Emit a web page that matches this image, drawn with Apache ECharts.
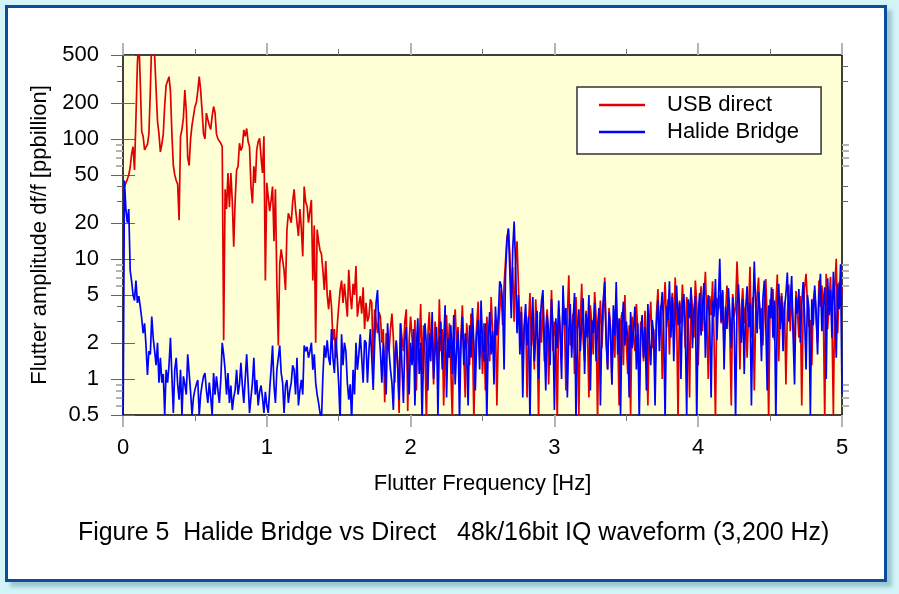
<!DOCTYPE html>
<html>
<head>
<meta charset="utf-8">
<title>Flutter spectrum</title>
<script src="https://cdn.jsdelivr.net/npm/echarts@6/dist/echarts.min.js"></script>
<style>
  html, body { margin: 0; padding: 0; background: #d3f5f8; }
  #frame {
    position: absolute; left: 5px; top: 5px; width: 882px; height: 577px;
    box-sizing: border-box; border: 3px solid #0d4c9b; background: #fff;
    box-shadow: 5px 5px 4px #9cc6d0;
  }
  #chart { position: absolute; left: 0; top: 0; width: 899px; height: 594px; }
</style>
</head>
<body>
<div id="frame"></div>
<div id="chart"></div>
<script>
// spectrum sampled every 0.01 Hz, 0 .. 5 Hz
const FREQ_STEP = 0.01

const usbDirect = [
  38, 40, 43, 46, 50, 58, 75, 86, 55, 150,
  420, 700, 300, 115, 105, 81, 84, 90, 110, 250,
  700, 700, 500, 260, 140, 110, 78, 90, 110, 190,
  280, 275, 330, 250, 110, 60, 50, 45, 42, 21,
  105, 120, 150, 255, 170, 70, 60, 100, 130, 155,
  185, 200, 250, 330, 255, 170, 110, 100, 164, 145,
  130, 120, 155, 186, 165, 110, 100, 98, 92, 86,
  2.1, 38, 26, 52, 27, 52, 30, 12.6, 31, 55,
  59, 92, 80, 86, 119, 105, 122, 95, 86, 40,
  29, 59, 43, 81, 95, 101, 70, 52, 105, 6.6,
  43, 43, 25, 31, 40, 14, 38, 6.2, 1.9, 9.1,
  12, 11.8, 8, 5.5, 17.5, 24, 22, 20, 30, 38,
  26, 20, 15.5, 26, 18, 10.5, 40, 30, 27.5, 20,
  25, 31, 6.6, 19, 2.0, 17.5, 14, 11.8, 11, 8,
  5.5, 9.6, 5, 3.8, 5.5, 4.0, 2.1, 2.6, 1.5, 2.8,
  4.0, 5.5, 6.6, 4.3, 6.2, 4.5, 3.3, 8.1, 5, 3.8,
  6.2, 5, 8.7, 3.3, 4.2, 4.9, 3.5, 5.8, 2.6, 4.3,
  3.0, 3.3, 4.6, 4.3, 1.3, 3.8, 3.0, 2.4, 3.6, 3.3,
  2.0, 2.6, 0.64, 2.4, 2.0, 1.7, 2.6, 3.5, 2.2, 0.93,
  2.0, 1.4, 0.52, 2.9, 2.2, 1.7, 3.0, 3.8, 0.54, 2.1,
  3.3,
  2.2, 1.4, 3.1, 0.8, 2.5, 1.9, 4.2, 1.1, 2.8, 1.6,
  0.45, 2.3, 3.6, 1.8, 2.4, 0.9, 3.0, 2.1, 1.3, 4.6,
  1.7, 2.6, 0.6, 2.0, 3.4, 1.5, 2.9, 1.2, 0.45, 2.4,
  3.8, 1.9, 2.7, 1.0, 2.2, 4.1, 1.6, 0.7, 2.9, 2.0,
  1.3, 3.5, 2.4, 0.45, 1.8, 2.8, 4.4, 1.5, 2.3, 1.1,
  2.9, 0.8, 3.3, 2.0, 1.4, 4.8, 2.5, 1.7, 3.1, 0.6,
  2.4, 3.8, 5.5, 2.8, 6.0, 9.5, 15, 17.5, 11, 4.5,
  8.5, 3.0, 9.0, 14, 6.0, 2.2, 4.0, 1.5, 2.6, 3.4,
  0.7, 2.8, 5.2, 1.9, 3.1, 1.2, 4.6, 2.5, 0.45, 3.6,
  2.0, 4.9, 1.4, 2.7, 3.8, 0.9, 2.4, 5.5, 1.7, 3.0,
  2.2, 0.45, 3.9, 2.6, 1.5, 4.4, 2.9, 0.8, 3.3, 7.3,
  1.9, 2.7, 3.5, 1.1, 4.8, 2.3, 0.5, 3.0, 6.2, 2.1,
  1.4, 3.7, 2.5, 0.7, 4.1, 2.9, 1.6, 5.3, 3.2, 0.45,
  2.6, 4.5, 1.8, 3.4, 7.0, 2.2, 1.2, 3.9, 2.7, 0.9,
  3.1, 1.5, 4.6, 2.4, 0.6, 2.9, 3.6, 1.3, 5.0, 2.0,
  1.1, 2.8, 0.5, 3.3, 2.2, 1.7, 4.2, 2.5, 0.8, 3.0,
  2.4, 1.4, 3.7, 2.0, 0.6, 2.9, 4.4, 1.8, 2.6, 1.2,
  3.5, 5.6, 2.3, 4.1, 1.0, 3.8, 6.4, 2.7, 4.6, 1.6,
  3.9, 5.2, 2.4, 7.0, 3.3, 0.45, 4.5, 2.9, 6.1, 3.6,
  1.8, 4.8, 3.0, 0.7, 5.5, 3.9, 2.2, 6.6, 4.2, 1.3,
  3.6, 5.9, 2.5, 4.4, 7.8, 3.1, 1.0, 4.9, 3.4, 6.5,
  2.2, 0.45, 4.7, 3.8, 5.0, 2.9, 5.3, 1.6, 3.5, 6.0,
  4.1, 2.4, 0.6, 5.1, 3.3, 4.0, 9.5, 4.6, 1.2, 3.9,
  5.7, 2.9, 4.0, 1.5, 3.4, 8.6, 2.2, 4.8, 0.8, 3.6,
  5.0, 7.0, 2.6, 3.9, 1.9, 4.3, 6.8, 3.0, 0.45, 4.6,
  3.2, 5.6, 2.1, 4.0, 7.4, 1.4, 3.7, 5.2, 2.8, 4.4,
  0.9, 3.5, 6.1, 2.5, 4.7, 3.0, 1.6, 5.4, 3.8, 2.2,
  4.9, 0.6, 3.6, 5.8, 7.5, 4.2, 2.7, 3.1, 1.3, 4.5,
  5.5, 3.3, 2.0, 6.6, 4.0, 6.0, 3.7, 0.45, 7.5, 2.6,
  4.3, 7.1, 3.0, 0.5, 5.9, 10, 2.4, 6.4, 4.0, 5.8
]

const halideBridge = [
  0.3, 45, 26, 20, 26, 8, 6.5, 5, 4.5, 6.6,
  4.3, 4.9, 4.0, 3.2, 2.4, 2.9, 1.9, 1.08, 1.7, 1.6,
  3.3, 2.2, 1.7, 1.3, 2.0, 0.93, 1.5, 0.93, 1.1, 0.5,
  1.19, 0.93, 1.3, 2.2, 1.05, 0.52, 1.19, 1.5, 0.9, 0.67,
  1.19, 0.5, 1.05, 0.9, 0.74, 1.6, 1.65, 0.78, 0.5, 0.7,
  0.81, 0.9, 0.98, 0.5, 0.74, 0.9, 1.05, 1.12, 0.8, 0.63,
  0.93, 0.7, 0.5, 1.12, 0.74, 1.05, 0.8, 0.63, 0.98, 2.0,
  1.6, 1.19, 0.74, 1.12, 0.63, 0.88, 0.55, 0.7, 0.81, 1.19,
  0.74, 0.9, 1.36, 0.88, 0.63, 1.0, 1.6, 0.93, 0.52, 0.7,
  0.93, 1.5, 0.74, 0.98, 0.6, 0.78, 0.88, 0.7, 0.52, 0.78,
  0.6, 0.52, 0.81, 1.2, 1.9, 0.88, 0.63, 1.19, 1.5, 1.9,
  1.12, 0.93, 0.52, 0.88, 0.98, 0.63, 0.8, 0.93, 1.3, 1.19,
  0.74, 1.5, 0.6, 0.8, 0.98, 0.74, 1.9, 1.7, 1.85, 1.5,
  1.7, 2.0, 1.19, 1.6, 0.93, 0.74, 0.63, 0.52, 0.45, 1.05,
  1.9, 1.5, 2.1, 1.5, 1.3, 2.6, 1.5, 1.12, 2.2, 1.5,
  0.9, 0.45, 2.35, 1.3, 2.0, 1.7, 0.93, 0.67, 0.9, 0.45,
  1.19, 0.74, 2.0, 1.19, 1.6, 2.35, 1.5, 0.93, 2.1, 2.0,
  0.93, 1.7, 2.6, 1.5, 0.81, 2.0, 4.3, 5.5, 2.5, 1.7,
  0.93, 2.0, 1.26, 0.74, 2.9, 1.7, 1.2, 0.93, 0.55, 1.5,
  2.1, 1.3, 0.67, 2.9, 1.26, 0.63, 2.1, 2.7, 1.19, 0.74,
  2.0,
  1.3, 2.6, 0.6, 1.8, 3.2, 1.1, 2.0, 0.45, 1.6, 2.9,
  1.9, 0.8, 2.4, 1.4, 3.6, 1.0, 1.7, 2.7, 0.5, 2.1,
  3.0, 1.2, 1.9, 4.1, 0.7, 2.2, 1.5, 2.8, 1.1, 3.4,
  0.9, 1.8, 2.5, 0.45, 2.0, 3.3, 1.3, 2.4, 1.7, 0.6,
  2.8, 1.5, 3.9, 1.9, 0.8, 2.3, 3.1, 1.2, 4.5, 2.0,
  1.4, 2.9, 0.45, 2.2, 3.6, 1.6, 2.5, 0.9, 4.0, 2.3,
  3.4, 6.5, 6.0, 4.2, 1.2, 7.5, 14, 18, 8.0, 3.2,
  12, 20.5, 9.0, 2.4, 5.0, 1.6, 3.6, 0.7, 2.8, 4.2,
  1.9, 3.3, 0.45, 2.6, 4.8, 1.4, 2.2, 3.7, 1.0, 2.9,
  4.4, 5.5, 2.1, 0.8, 3.4, 2.5, 1.3, 4.6, 2.7, 0.55,
  3.2, 1.8, 4.5, 2.3, 1.0, 6.0, 2.8, 3.9, 0.7, 2.5,
  4.2, 1.5, 3.0, 5.2, 0.45, 2.6, 3.8, 1.7, 2.9, 4.7,
  1.1, 3.5, 2.2, 5.0, 0.8, 3.1, 2.4, 4.3, 1.4, 2.7,
  3.9, 0.6, 2.9, 4.6, 6.4, 2.0, 1.2, 3.6, 2.5, 0.9,
  4.1, 2.3, 6.4, 1.6, 3.2, 0.5, 2.8, 4.4, 1.9, 3.0,
  2.1, 0.7, 3.6, 1.8, 2.6, 4.0, 1.2, 2.9, 0.45, 2.3,
  3.4, 1.5, 2.7, 0.8, 4.2, 2.0, 1.3, 3.1, 2.4, 0.6,
  2.9, 4.5, 1.7, 3.7, 5.3, 2.5, 0.45, 4.0, 3.1, 6.5,
  2.2, 4.8, 1.4, 3.5, 6.0, 2.8, 4.3, 1.0, 3.9, 5.1,
  2.6, 0.5, 4.6, 3.2, 5.8, 1.8, 3.7, 4.9, 0.45, 3.4,
  5.2, 2.3, 4.1, 6.3, 1.5, 3.6, 5.0, 2.8, 0.7, 4.5,
  3.3, 6.8, 2.1, 4.4, 10, 3.0, 5.5, 1.2, 4.0, 2.6,
  5.7, 3.5, 1.8, 4.8, 2.9, 0.45, 4.2, 6.1, 3.1, 2.0,
  4.6, 1.1, 3.8, 5.9, 2.7, 4.3, 0.6, 3.4, 9.5, 4.0,
  2.4, 5.3, 3.6, 1.4, 4.7, 6.6, 2.9, 0.8, 4.1, 3.2,
  5.8, 2.2, 4.5, 0.45, 3.7, 6.2, 2.6, 4.9, 1.7, 3.9,
  5.1, 7.7, 3.0, 4.4, 7.2, 2.3, 0.9, 4.8, 3.5, 5.6,
  2.0, 4.2, 6.4, 3.3, 1.2, 5.0, 3.8, 0.5, 4.6, 2.8,
  6.0, 3.6, 1.6, 4.9, 7.5, 2.5, 4.3, 5.8, 1.0, 6.9,
  3.4, 5.5, 2.2, 7.8, 4.1, 1.5, 6.2, 3.8, 9.0, 0.75
]

const xMajorTicks = [0, 1, 2, 3, 4, 5]
const xMinorTicks = [0.5, 1.5, 2.5, 3.5, 4.5]
const yMajorTicks = [0.5, 1, 2, 5, 10, 20, 50, 100, 200, 500]
const yMinorTicks = [3, 4, 30, 40, 300, 400]
const yFineTicks = [0.6, 0.7, 0.8, 0.9, 6, 7, 8, 9, 60, 70, 80, 90]

const FONT = '"Liberation Sans", Arial, Helvetica, sans-serif'

function toPoints(values) {
    return values.map((v, i) => [+(i * FREQ_STEP).toFixed(2), v])
}

function xAxisFor(position, ticks, len, color, width, withLabels) {
    const axis = {
        type: 'value', min: 0, max: 5, interval: 1, position: position,
        axisLine: { show: false },
        splitLine: { show: false },
        axisTick: { show: true, length: len, customValues: ticks, lineStyle: { color: color, width: width } },
        axisLabel: { show: false }
    }
    if (withLabels) {
        axis.axisLabel = {
            show: true, customValues: xMajorTicks, margin: 22,
            color: '#000', fontSize: 22, fontFamily: FONT
        }
        axis.name = 'Flutter Frequency [Hz]'
        axis.nameLocation = 'middle'
        axis.nameGap = 58
        axis.nameTextStyle = { color: '#000', fontSize: 22, fontFamily: FONT }
    }
    return axis
}

function yAxisFor(position, ticks, len, color, width, withLabels) {
    const axis = {
        type: 'log', logBase: 10, min: 0.5, max: 500, position: position,
        axisLine: { show: false },
        splitLine: { show: false },
        minorTick: { show: false },
        axisTick: { show: true, length: len, customValues: ticks, lineStyle: { color: color, width: width } },
        axisLabel: { show: false }
    }
    if (withLabels) {
        axis.axisLabel = {
            show: true, customValues: yMajorTicks, margin: 24,
            color: '#000', fontSize: 22, fontFamily: FONT,
            formatter: v => String(v)
        }
        axis.name = 'Flutter amplitude df/f [ppbillion]'
        axis.nameLocation = 'middle'
        axis.nameGap = 62
        axis.nameTextStyle = { color: '#000', fontSize: 22, fontFamily: FONT }
    }
    return axis
}

const chart = echarts.init(document.getElementById('chart'), null, { renderer: 'canvas' })

chart.setOption({
    backgroundColor: 'transparent',
    animation: false,
    title: {
        text: 'Figure 5  Halide Bridge vs Direct   48k/16bit IQ waveform (3,200 Hz)',
        left: 73,
        top: 516,
        textStyle: { color: '#000', fontSize: 24.9, fontWeight: 'normal', fontFamily: FONT }
    },
    grid: {
        left: 123, top: 55, width: 719, height: 360,
        show: true,
        backgroundColor: '#ffffd5',
        borderColor: '#000',
        borderWidth: 1.5
    },
    legend: {
        orient: 'vertical',
        left: 577,
        top: 87,
        padding: [7, 22, 11, 22],
        itemGap: 5,
        icon: 'rect',
        itemWidth: 46,
        itemHeight: 2.5,
        backgroundColor: '#fff',
        borderColor: '#333',
        borderWidth: 1.5,
        textStyle: { color: '#000', fontSize: 22, fontFamily: FONT, lineHeight: 22, padding: [0, 0, 0, 17] },
        data: ['USB direct', 'Halide Bridge']
    },
    xAxis: [
        xAxisFor('bottom', xMajorTicks, 12, '#b4b4b4', 2, true),
        xAxisFor('bottom', xMinorTicks, 6, '#777', 1, false),
        xAxisFor('top', xMajorTicks, 12, '#b4b4b4', 2, false),
        xAxisFor('top', xMinorTicks, 6, '#777', 1, false)
    ],
    yAxis: [
        yAxisFor('left', yMajorTicks, 12, '#666', 1, true),
        yAxisFor('left', yMinorTicks, 6, '#666', 1, false),
        yAxisFor('left', yFineTicks, 7, '#b4b4b4', 2, false),
        yAxisFor('right', yMajorTicks, 12, '#666', 1, false),
        yAxisFor('right', yMinorTicks, 6, '#666', 1, false),
        yAxisFor('right', yFineTicks, 7, '#b4b4b4', 2, false)
    ],
    series: [
        {
            name: 'USB direct',
            type: 'line',
            data: toPoints(usbDirect),
            symbol: 'none',
            clip: true,
            color: '#e00000',
            lineStyle: { color: '#e00000', width: 1.7 }
        },
        {
            name: 'Halide Bridge',
            type: 'line',
            data: toPoints(halideBridge),
            symbol: 'none',
            clip: true,
            color: '#0000ff',
            lineStyle: { color: '#0000ff', width: 1.7 }
        }
    ]
})
</script>
</body>
</html>
